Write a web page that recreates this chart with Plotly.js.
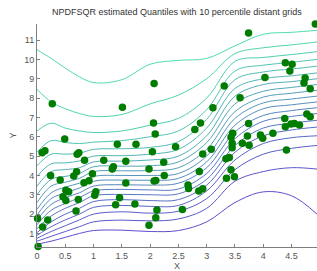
<!DOCTYPE html>
<html><head><meta charset="utf-8">
<script src="https://cdn.plot.ly/plotly-3.0.1.min.js"></script>
<style>html,body{margin:0;padding:0;background:#fff}#plot{width:317px;height:271px}</style>
</head><body><div id="plot"></div>
<script>
// grid x positions of the quantile curves
const gridX = [0, 0.25, 0.5, 0.75, 1, 1.5, 2, 2.5, 3, 3.5, 4, 4.5, 4.95];
// quantile curves, bottom (k1) to top (k19), y at gridX
const q01 = [0.45,0.6,0.8,1.0,1.15,1.17,1.1,1.15,1.6,2.6,3.15,2.95,2.0];
const q02 = [0.6,0.85,1.1,1.35,1.6,1.69,1.65,1.75,2.3,3.7,4.2,4.4,4.33];
const q03 = [0.75,1.1,1.4,1.7,2.0,2.12,2.05,2.15,2.8,4.3,5.1,5.4,5.55];
const q04 = [0.9,1.35,1.7,2.0,2.35,2.45,2.4,2.45,3.2,4.8,5.65,5.95,6.05];
const q05 = [1.05,1.6,2.0,2.3,2.65,2.75,2.7,2.75,3.5,5.2,6.05,6.35,6.5];
const q06 = [1.25,1.9,2.3,2.6,2.95,3.02,3.0,3.05,3.8,5.55,6.45,6.7,6.85];
const q07 = [1.45,2.2,2.55,2.85,3.2,3.28,3.25,3.3,4.1,5.9,6.8,7.05,7.2];
const q08 = [1.7,2.5,2.85,3.1,3.45,3.52,3.5,3.6,4.4,6.25,7.1,7.35,7.5];
const q09 = [1.95,2.8,3.1,3.35,3.7,3.76,3.75,3.85,4.7,6.6,7.45,7.65,7.8];
const q10 = [2.25,3.1,3.4,3.6,3.95,4.0,4.0,4.1,5.0,6.95,7.75,7.95,8.1];
const q11 = [2.6,3.45,3.65,3.85,4.2,4.24,4.25,4.4,5.35,7.3,8.05,8.25,8.4];
const q12 = [3.0,3.8,3.95,4.1,4.45,4.48,4.5,4.7,5.7,7.7,8.35,8.55,8.7];
const q13 = [3.45,4.2,4.3,4.4,4.7,4.74,4.8,5.0,6.05,8.1,8.7,8.85,9.0];
const q14 = [3.95,4.6,4.65,4.75,5.0,5.02,5.1,5.35,6.45,8.5,9.0,9.15,9.3];
const q15 = [4.5,5.1,5.1,5.15,5.35,5.38,5.45,5.75,6.9,8.95,9.35,9.5,9.65];
const q16 = [5.2,5.8,5.7,5.65,5.72,5.8,6.0,6.3,7.4,9.4,9.7,9.85,10.0];
const q17 = [6.3,6.7,6.45,6.3,6.22,6.3,6.6,6.95,8.0,9.9,10.1,10.25,10.4];
const q18 = [8.45,7.8,7.45,7.2,7.05,7.15,7.7,8.15,9.0,10.3,10.6,10.75,10.9];
const q19 = [10.5,10.05,9.55,9.1,8.8,8.95,9.75,9.95,10.05,10.7,11.3,11.4,11.5];
const quantiles = [q01,q02,q03,q04,q05,q06,q07,q08,q09,q10,q11,q12,q13,q14,q15,q16,q17,q18,q19];

// observed sample points
const obsX = [0.27,1.51,2.07,2.06,2.09,0.49,4.92,3.74,4.39,4.51,4.47,4.03,3.31,3.59,4.74,4.72,4.83,3.11,2.89,2.79,
  4.38,4.39,4.49,4.55,4.64,4.77,4.83,3.74,3.46,3.43,3.72,3.95,3.99,4.17,0.09,0.14,1.42,1.75,0.71,0.74,
  0.84,1.18,1.57,2.04,1.35,1.33,1.98,0.24,0.41,0.70,0.65,0.98,0.83,0.92,1.57,2.07,2.10,0.51,0.56,0.46,
  0.51,0.73,1.04,1.02,1.46,1.39,1.73,0.69,0.01,0.19,0.10,0.02,1.98,2.10,2.12,3.45,3.45,3.63,3.75,4.41,
  2.45,2.93,3.08,2.24,3.34,3.40,3.43,2.87,2.25,3.35,3.49,2.67,2.68,2.86,2.93,2.57];
const obsY = [7.71,7.52,8.76,6.71,6.14,5.88,11.83,11.37,9.83,9.75,9.40,9.07,8.62,8.02,9.04,8.78,8.48,7.50,6.71,6.38,
  6.95,6.52,6.66,6.69,6.61,7.18,7.04,6.69,6.18,5.97,6.04,6.09,5.92,6.18,5.17,5.28,5.61,5.61,5.09,5.17,
  4.78,4.78,4.74,5.22,4.45,4.33,4.33,4.00,3.76,4.19,3.97,4.09,3.62,3.73,3.61,3.71,3.74,3.23,3.16,2.90,
  2.71,2.76,3.16,2.97,2.85,2.48,2.52,2.16,1.78,1.69,1.33,0.33,1.43,1.81,2.21,5.66,5.43,5.66,5.56,5.31,
  5.48,5.11,5.35,4.68,4.86,4.93,4.29,4.21,4.00,3.86,3.93,3.50,3.33,3.19,3.31,2.24];

const xTicks = [0,0.5,1,1.5,2,2.5,3,3.5,4,4.5];
const xTickText = ['0','0.5','1','1.5','2','2.5','3','3.5','4','4.5'];
const yTicks = [1,2,3,4,5,6,7,8,9,10,11];

const c0 = [92,78,205], c1 = [78,222,172];
const traces = quantiles.map((q, i) => {
  const t = i / (quantiles.length - 1);
  const c = c0.map((v, j) => Math.round(v + (c1[j] - v) * t));
  return {x: gridX, y: q, type: 'scatter', mode: 'lines',
    line: {color: `rgb(${c[0]},${c[1]},${c[2]})`, width: 1, shape: 'spline', smoothing: 1},
    hoverinfo: 'skip'};
});
traces.push({x: obsX, y: obsY, type: 'scatter', mode: 'markers', cliponaxis: false,
  marker: {color: 'rgb(0,125,0)', size: 7.5, line: {width: 0}}});

const axisCommon = {showgrid: false, zeroline: false, showline: true, linecolor: '#7f7f7f', linewidth: 1,
  ticks: 'inside', ticklen: 3, tickcolor: '#7f7f7f',
  tickfont: {family: 'Liberation Sans, Arial, sans-serif', size: 9, color: '#555'}};

const layout = {
  width: 317, height: 271,
  margin: {l: 37, r: 0, t: 24, b: 24, pad: 0},
  paper_bgcolor: '#fff', plot_bgcolor: '#fff',
  showlegend: false,
  title: {text: 'NPDFSQR estimated Quantiles with 10 percentile distant grids',
    font: {family: 'Liberation Sans, Arial, sans-serif', size: 9, color: '#333'},
    x: 0.558, xanchor: 'center', y: 0.955, yanchor: 'middle'},
  xaxis: Object.assign({}, axisCommon, {range: [0, 4.95], tickvals: xTicks, ticktext: xTickText,
    title: {text: 'X', font: {family: 'Liberation Sans, Arial, sans-serif', size: 9, color: '#555'}, standoff: 2}}),
  yaxis: Object.assign({}, axisCommon, {range: [0.3, 11.83], tickvals: yTicks,
    title: {text: 'Y', font: {family: 'Liberation Sans, Arial, sans-serif', size: 9, color: '#555'}, standoff: 6}})
};
Plotly.newPlot('plot', traces, layout, {staticPlot: true, displayModeBar: false});
</script></body></html>
